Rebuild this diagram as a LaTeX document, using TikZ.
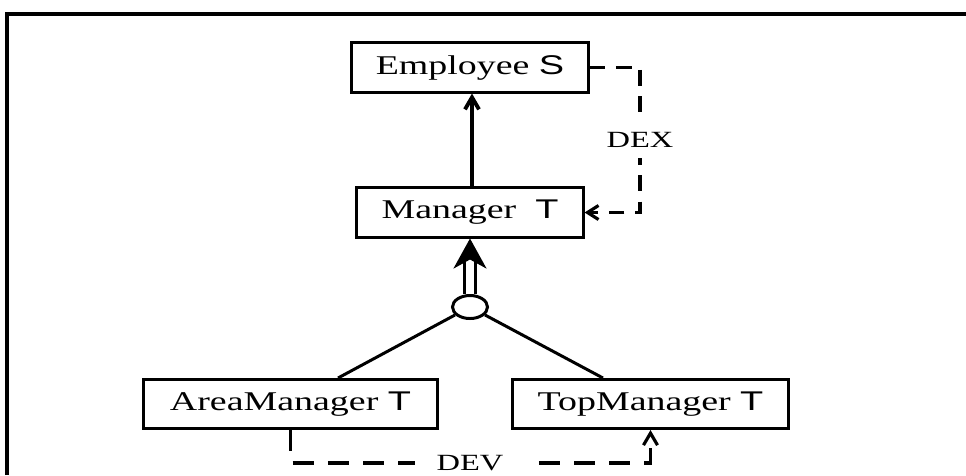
\documentclass[tikz,border=0pt]{standalone}
\usepackage{fontspec}
\setmainfont[FakeStretch=1.4]{Liberation Serif}
\setsansfont[FakeStretch=1.4]{Liberation Sans}
\usetikzlibrary{arrows.meta,shapes.geometric}
\tikzset{
  cls/.style={draw,line width=0.85pt,minimum height=0.49cm,inner sep=0pt,
    font=\fontsize{7.7}{9}\selectfont},
  lbl/.style={fill=white,inner sep=0.5mm,font=\fontsize{6.6}{8}\selectfont},
  dexline/.style={line width=0.9pt,dash pattern=on 4.5pt off 3pt,
    -{Straight Barb[length=1.1mm,width=1.4mm]}},
  devline/.style={line width=0.9pt,dash pattern=on 6pt off 4pt,
    -{Straight Barb[length=1.2mm,width=1.4mm]}},
}
\begin{document}
\begin{tikzpicture}[x=0.01cm,y=-0.01cm]
\useasboundingbox (0,0) rectangle (966,475);
\draw[line width=1pt] (7,475) -- (7,14) -- (966,14);

\node[cls,minimum width=2.36cm] (emp) at (470,67.5) {Employee \textsf{S}};
\node[cls,minimum width=2.26cm] (mgr) at (470,212.5) {Manager\ \ \textsf{T}};
\node[cls,minimum width=2.93cm] (am) at (290.5,404) {AreaManager \textsf{T}};
\node[cls,minimum width=2.75cm] (tm) at (650.5,404) {TopManager \textsf{T}};
\node[draw,ellipse,line width=0.85pt,minimum width=0.35cm,minimum height=0.23cm,inner sep=0pt] (isa) at (470,307) {};

\draw[line width=1.1pt,-{Straight Barb[length=1.2mm,width=1.4mm]}] ([xshift=0.2mm]mgr.north) -- ([xshift=0.2mm]emp.south);
\draw[line width=0.8pt,double distance=2.3pt,-{Stealth[length=3mm,width=3.3mm,inset=0.9mm]}] (isa.north) -- (mgr.south);
\draw[line width=0.85pt] (isa.208) -- ([xshift=4.75mm]am.north);
\draw[line width=0.85pt] (isa.332) -- ([xshift=-4.75mm]tm.north);

\coordinate (dexc) at (640,140);
\draw[dexline] (emp.east) -| (dexc) node[lbl,inner ysep=1mm]{DEX} |- (mgr.east);
\coordinate (devc) at (470,463);
\draw[devline] (am.south) |- (devc) node[lbl,inner xsep=2.2mm]{DEV} -| (tm.south);
\end{tikzpicture}
\end{document}
